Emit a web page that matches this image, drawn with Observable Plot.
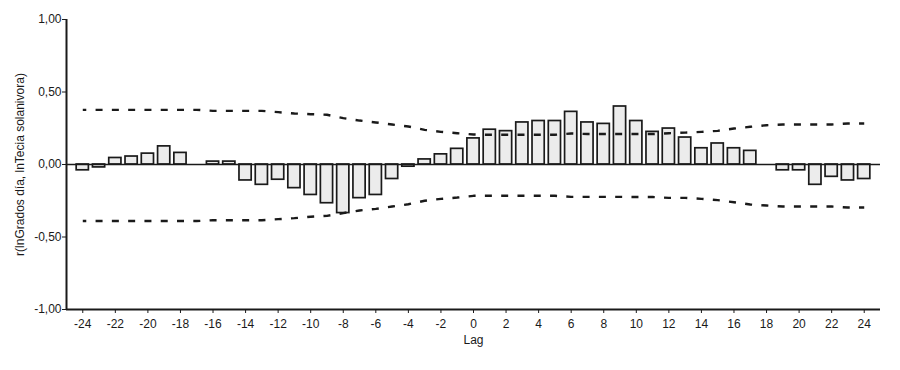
<!DOCTYPE html>
<html>
<head>
<meta charset="utf-8">
<script src="https://cdn.jsdelivr.net/npm/d3@7"></script>
<script src="https://cdn.jsdelivr.net/npm/@observablehq/plot@0.6"></script>
<style>
  html, body { margin: 0; padding: 0; background: #fff; }
  #chart svg { display: block; }
</style>
</head>
<body>
<div id="chart"></div>
<script>
const lags = d3.range(-24, 25);
const correlations = [
  -0.04, -0.02, 0.045, 0.055, 0.075, 0.125, 0.08, 0, 0.02, 0.02,
  -0.11, -0.14, -0.105, -0.163, -0.21, -0.267, -0.335, -0.232, -0.21, -0.10,
  -0.015, 0.035, 0.07, 0.108, 0.18, 0.24, 0.23, 0.29, 0.30, 0.30,
  0.363, 0.29, 0.28, 0.40, 0.30, 0.225, 0.248, 0.186, 0.112, 0.145,
  0.112, 0.094, 0, -0.04, -0.04, -0.14, -0.085, -0.11, -0.10
];
const upperLimit = [
  0.377, 0.377, 0.377, 0.377, 0.377, 0.377, 0.377, 0.377, 0.370, 0.370,
  0.370, 0.370, 0.361, 0.352, 0.347, 0.343, 0.32, 0.303, 0.29, 0.276,
  0.262, 0.239, 0.225, 0.216, 0.207, 0.205, 0.205, 0.205, 0.205, 0.205,
  0.214, 0.21, 0.21, 0.21, 0.21, 0.21, 0.216, 0.22, 0.225, 0.232,
  0.248, 0.26, 0.271, 0.276, 0.276, 0.276, 0.276, 0.283, 0.283
];
const lowerLimit = [
  -0.39, -0.39, -0.39, -0.39, -0.39, -0.39, -0.39, -0.39, -0.384, -0.384,
  -0.384, -0.384, -0.377, -0.37, -0.36, -0.354, -0.335, -0.317, -0.306, -0.29,
  -0.274, -0.25, -0.237, -0.228, -0.216, -0.216, -0.216, -0.216, -0.216, -0.216,
  -0.223, -0.223, -0.223, -0.223, -0.224, -0.224, -0.23, -0.23, -0.237, -0.246,
  -0.26, -0.276, -0.283, -0.29, -0.29, -0.29, -0.29, -0.297, -0.297
];
const yTicks = [-1, -0.5, 0, 0.5, 1];
const xTicks = d3.range(-24, 25, 2);

const bars = lags.map((lag, i) => ({lag, r: correlations[i]})).filter(d => d.r !== 0);
const upper = lags.map((lag, i) => ({lag, v: upperLimit[i]}));
const lower = lags.map((lag, i) => ({lag, v: lowerLimit[i]}));

const halfWidth = 0.375;
const ink = "#1a1a1a";

const chart = Plot.plot({
  width: 900,
  height: 370,
  marginLeft: 66,
  marginRight: 20,
  marginTop: 19,
  marginBottom: 61,
  style: {fontFamily: "'Liberation Sans', Arial, sans-serif", fontSize: "12px", color: ink, background: "#fff"},
  x: {domain: [-25, 25]},
  y: {domain: [-1, 1]},
  marks: [
    Plot.rectY(bars, {x1: d => d.lag - halfWidth, x2: d => d.lag + halfWidth, y1: 0, y2: "r", fill: "#ececec", stroke: ink, strokeWidth: 1.7}),
    Plot.line(upper, {x: "lag", y: "v", stroke: ink, strokeWidth: 2.4, strokeLinecap: "butt", strokeDasharray: "7,9.29", strokeDashoffset: 3.5}),
    Plot.line(lower, {x: "lag", y: "v", stroke: ink, strokeWidth: 2.4, strokeLinecap: "butt", strokeDasharray: "7,9.29", strokeDashoffset: 3.5}),
    Plot.ruleY([0], {stroke: ink, strokeWidth: 1.5}),
    Plot.ruleY([-1], {stroke: ink, strokeWidth: 2}),
    Plot.ruleX([-25], {stroke: ink, strokeWidth: 2}),
    Plot.axisY({ticks: yTicks, tickFormat: d => d.toFixed(2).replace(".", ","), tickSize: 4, tickPadding: 1, stroke: ink,
      label: "r(lnGrados día, lnTecia solanivora)", labelAnchor: "center", labelArrow: "none", labelOffset: 51}),
    Plot.axisX({ticks: xTicks, tickFormat: d => String(d), tickSize: 4, tickPadding: 6, stroke: ink,
      label: "Lag", labelAnchor: "center", labelArrow: "none", labelOffset: 34})
  ]
});
document.getElementById("chart").appendChild(chart);
</script>
</body>
</html>
